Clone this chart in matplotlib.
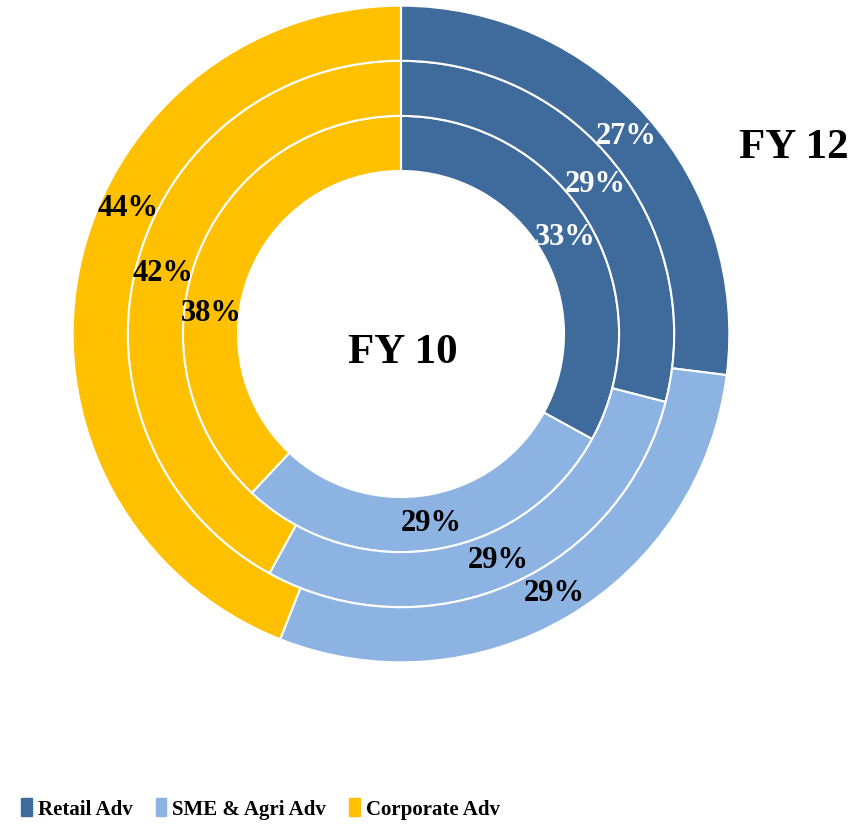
import numpy as np
import matplotlib
matplotlib.use("Agg")
import matplotlib.pyplot as plt

# Data (inner ring first)
years = ["FY 10", "FY 11", "FY 12"]
categories = ["Retail Adv", "SME & Agri Adv", "Corporate Adv"]
retail = [33, 29, 27]
sme = [29, 29, 29]
corporate = [38, 42, 44]

colors = ["#3F6A9C", "#8DB3E2", "#FFC000"]
label_colors = ["white", "black", "black"]
# small manual nudges (degrees) for the corporate labels, like the original
corp_nudge = [-15, 0, 14]

plt.rcParams["font.family"] = ["Liberation Serif", "DejaVu Serif"]
plt.rcParams["font.weight"] = "bold"

fig = plt.figure(figsize=(8.68, 8.29), dpi=100)
# square axes, centre of rings at about (401, 335) px, outer radius 328 px
ax = fig.add_axes([(401 - 328) / 868, (829 - 335 - 328) / 829, 656 / 868, 656 / 829])
ax.axis("off")

width = 0.168
hole = 0.497

for i, year in enumerate(years):
    vals = [retail[i], sme[i], corporate[i]]
    r_out = hole + width * (i + 1)
    ax.pie(vals, radius=r_out, colors=colors, startangle=90, counterclock=False,
           wedgeprops=dict(width=width, edgecolor="white", linewidth=1.5))
    # labels at the middle of each segment
    total = sum(vals)
    cum = 0
    r_mid = r_out - width / 2
    for j, v in enumerate(vals):
        mid = (cum + v / 2) / total * 360
        if j == 2:
            mid += corp_nudge[i]
        ang = np.deg2rad(90 - mid)
        ax.text(r_mid * np.cos(ang), r_mid * np.sin(ang), f"{v}%", ha="center", va="center",
                fontsize=22, fontweight="bold", color=label_colors[j])
        cum += v

ax.set_xlim(-1, 1)
ax.set_ylim(-1, 1)

fig.text(403 / 868, 1 - 353 / 829, years[0], ha="center", va="center", fontsize=31, fontweight="bold")
fig.text(794 / 868, 1 - 148 / 829, years[-1], ha="center", va="center", fontsize=31, fontweight="bold")

handles = [plt.Rectangle((0, 0), 1, 1, color=c) for c in colors]
fig.legend(handles, categories, loc="lower left", bbox_to_anchor=(0.003, -0.012), ncol=3, frameon=False,
           prop={"size": 15, "weight": "bold"}, handlelength=0.5, handleheight=0.9,
           handletextpad=0.3, columnspacing=1.1)

fig.savefig("out.png", dpi=100)
